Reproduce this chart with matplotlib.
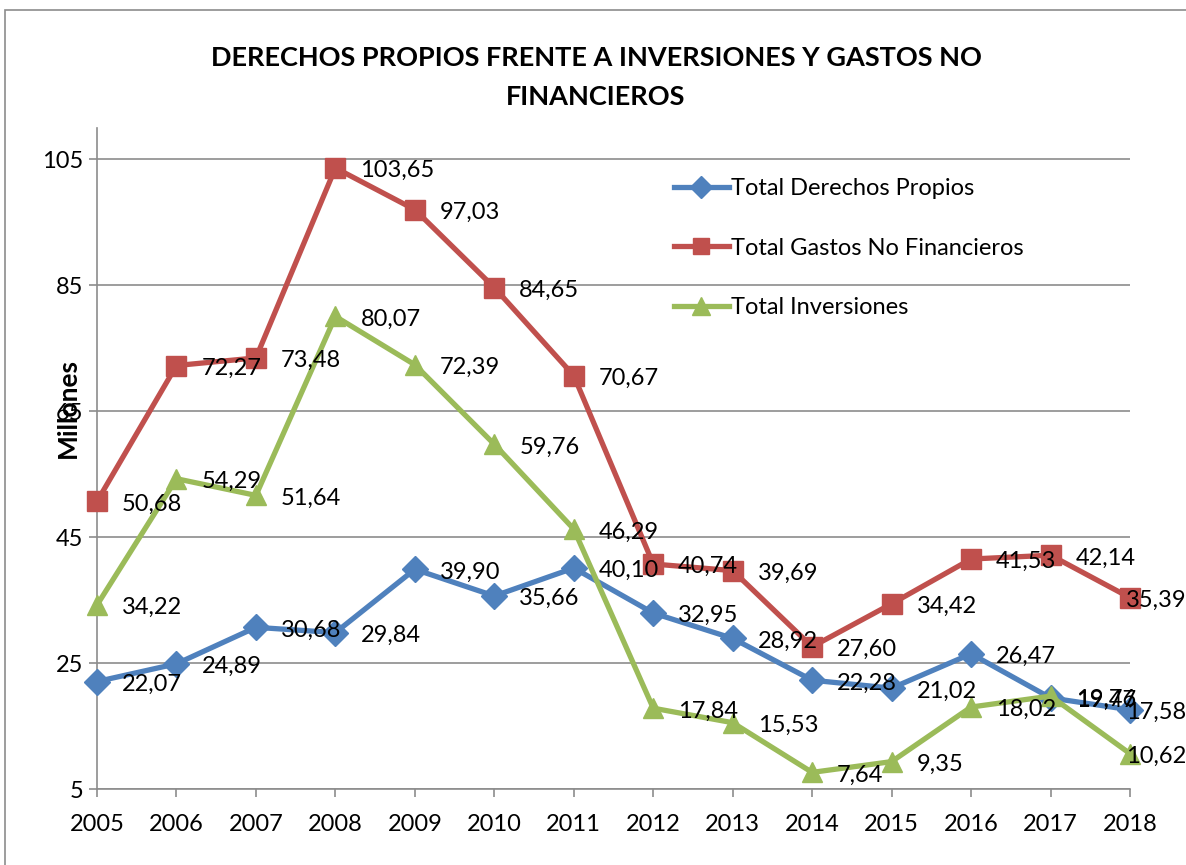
import matplotlib
matplotlib.use('Agg')
import matplotlib.pyplot as plt
from matplotlib.patches import Rectangle

years = ['2005', '2006', '2007', '2008', '2009', '2010', '2011',
         '2012', '2013', '2014', '2015', '2016', '2017', '2018']
derechos = [22.07, 24.89, 30.68, 29.84, 39.90, 35.66, 40.10,
            32.95, 28.92, 22.28, 21.02, 26.47, 19.47, 17.58]
gastos = [50.68, 72.27, 73.48, 103.65, 97.03, 84.65, 70.67,
          40.74, 39.69, 27.60, 34.42, 41.53, 42.14, 35.39]
inversiones = [34.22, 54.29, 51.64, 80.07, 72.39, 59.76, 46.29,
               17.84, 15.53, 7.64, 9.35, 18.02, 19.76, 10.62]
yticks = [5, 25, 45, 65, 85, 105]

plt.rcParams['font.family'] = ['Lato', 'DejaVu Sans']

fig = plt.figure(figsize=(11.86, 8.65), dpi=100)
ax = fig.add_axes([97 / 1186, 1 - 789 / 865, (1130 - 97) / 1186, (789 - 128) / 865])

# chart area border (only top and left visible in the crop)
fig.patches.append(Rectangle((5 / 1186, -0.1), 1.2, (855 / 865) + 0.1,
                             transform=fig.transFigure, fill=False,
                             edgecolor='#8c8c8c', linewidth=1.2))

x = list(range(len(years)))
series = [
    ('Total Derechos Propios', derechos, '#4F81BD', 'D', 13),
    ('Total Gastos No Financieros', gastos, '#C0504D', 's', 14),
    ('Total Inversiones', inversiones, '#9BBB59', '^', 15),
]
last = len(years) - 1
for name, vals, color, marker, ms in series:
    ax.plot(x, vals, color=color, linewidth=3.8, marker=marker, markersize=ms,
            markeredgecolor=color, label=name, zorder=3, clip_on=False)
    for xi, v in zip(x, vals):
        # Excel pulls the last labels back inside the chart area
        dx = -3 if xi == last else 18
        ax.annotate(f'{v:.2f}'.replace('.', ','), (xi, v), xytext=(dx, -2),
                    textcoords='offset points', ha='left', va='center',
                    fontsize=17, color='black', zorder=4, annotation_clip=False)

ax.set_xlim(0, last)
ax.set_ylim(5, 110)
ax.set_yticks(yticks)
ax.set_xticks(x)
ax.set_xticklabels(years)
ax.tick_params(axis='both', labelsize=17, length=6, color='#8c8c8c', width=1.2)
ax.tick_params(axis='x', pad=12)
ax.tick_params(axis='y', pad=4)
ax.grid(axis='y', color='#8c8c8c', linewidth=1.2)
ax.set_axisbelow(True)
for side in ['top', 'right']:
    ax.spines[side].set_visible(False)
for side in ['left', 'bottom']:
    ax.spines[side].set_color('#8c8c8c')
    ax.spines[side].set_linewidth(1.2)

fig.text(68 / 1186, 1 - 408 / 865, 'Millones', rotation=90, fontsize=19,
         fontweight='bold', ha='center', va='center')

fig.text(596 / 1186, 1 - 58 / 865, 'DERECHOS PROPIOS FRENTE A INVERSIONES Y GASTOS NO',
         fontsize=19.5, fontweight='bold', ha='center', va='center')
fig.text(596 / 1186, 1 - 97 / 865, 'FINANCIEROS',
         fontsize=19.5, fontweight='bold', ha='center', va='center')

ax.legend(loc='upper left', bbox_to_anchor=((653 - 97) / 1033, (789 - 157) / 661),
          frameon=False, fontsize=17, handlelength=2.3, handletextpad=0.1,
          labelspacing=1.63, markerscale=0.85)

fig.savefig('out.png', dpi=100)
